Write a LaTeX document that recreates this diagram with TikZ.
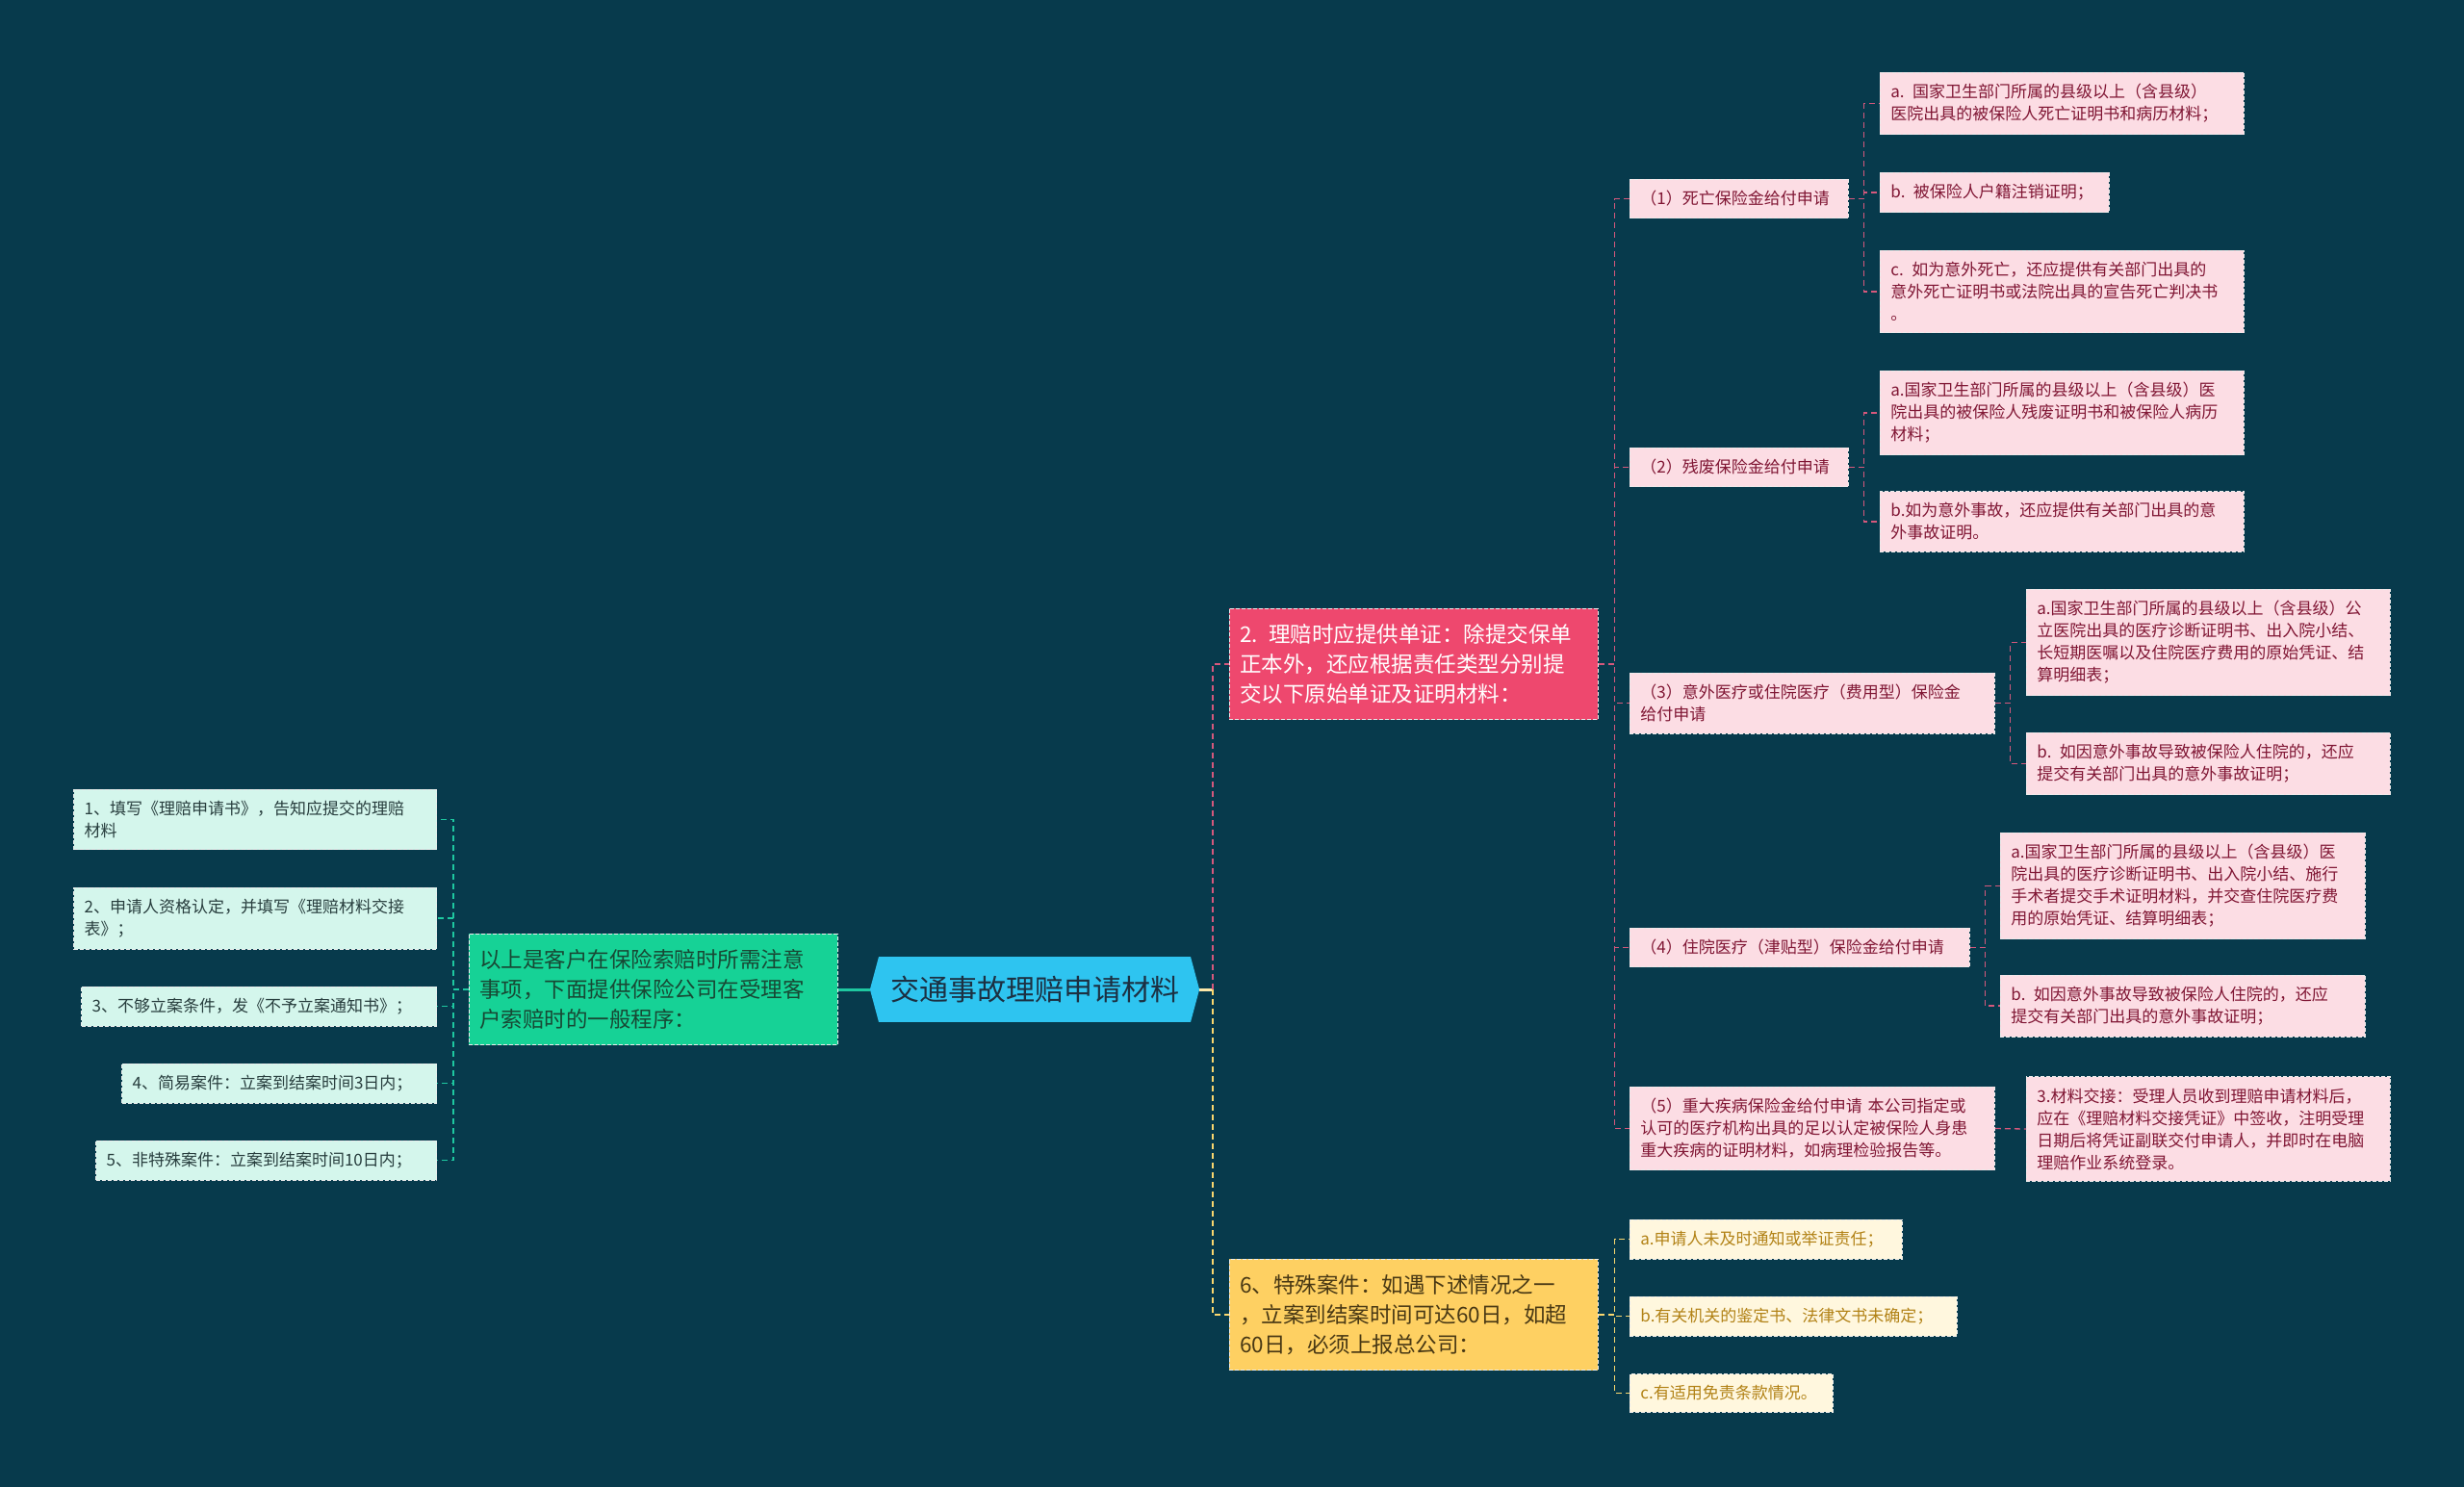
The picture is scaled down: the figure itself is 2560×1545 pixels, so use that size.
\documentclass[tikz,border=0pt]{standalone}
\usepackage{fontspec}
\setmainfont{Noto Sans CJK SC}
\usetikzlibrary{shapes.symbols}

\definecolor{bgcol}{RGB}{7,58,76}
\definecolor{rootcol}{RGB}{46,196,240}
\definecolor{roottxt}{RGB}{28,48,66}
\definecolor{greencol}{RGB}{22,210,150}
\definecolor{greentxt}{RGB}{24,72,52}
\definecolor{mintlt}{RGB}{212,246,236}
\definecolor{minttxt}{RGB}{40,62,62}
\definecolor{pinkcol}{RGB}{238,72,110}
\definecolor{pinklt}{RGB}{252,221,228}
\definecolor{pinktxt}{RGB}{128,22,52}
\definecolor{yellowcol}{RGB}{254,208,98}
\definecolor{yellowtxt}{RGB}{72,56,20}
\definecolor{creamlt}{RGB}{255,247,222}
\definecolor{creamtxt}{RGB}{178,130,22}
\definecolor{pinkln}{RGB}{214,88,124}
\definecolor{greenln}{RGB}{30,200,160}
\definecolor{yellowln}{RGB}{250,215,110}

\begin{document}
\begin{tikzpicture}[x=1pt,y=-1pt,
  box/.style={draw=white!85!gray,dash pattern=on 4pt off 2pt,line width=0.8pt,
    align=left,anchor=west,inner xsep=11pt,inner ysep=12pt,
    font=\fontsize{17}{23}\selectfont},
  pinkbox/.style={box,fill=pinklt,text=pinktxt},
  mintbox/.style={box,fill=mintlt,text=minttxt,anchor=east},
  creambox/.style={box,fill=creamlt,text=creamtxt},
  bigbox/.style={box,inner ysep=16pt,text width=361pt,font=\fontsize{22.5}{31}\selectfont},
  rootnode/.style={signal,signal to=east and west,signal pointer angle=150,
    fill=rootcol,text=roottxt,inner xsep=12pt,inner ysep=20pt,
    font=\fontsize{30}{36}\selectfont},
  link/.style={dash pattern=on 6pt off 4pt,line width=1.3pt},
  pinklink/.style={link,draw=pinkln},
  greenlink/.style={link,draw=greenln},
  yellowlink/.style={link,draw=yellowln}]

  \fill[bgcol] (0,0) rectangle (2560,1545);
  \useasboundingbox (0,0) rectangle (2560,1545);

  % centre
  \node[rootnode] (root) at (1075,1028) {交通事故理赔申请材料};

  % left branch
  \node[bigbox,fill=greencol,text=greentxt] (steps) at (487,1028)
    {以上是客户在保险索赔时所需注意\\事项，下面提供保险公司在受理客\\户索赔时的一般程序：};
  \node[mintbox,text width=355pt] (s1) at (454,851.5) {1、填写《理赔申请书》，告知应提交的理赔\\材料};
  \node[mintbox,text width=355pt] (s2) at (454,954) {2、申请人资格认定，并填写《理赔材料交接\\表》；};
  \node[mintbox,text width=347pt] (s3) at (454,1045.5) {3、不够立案条件，发《不予立案通知书》；};
  \node[mintbox,text width=305pt] (s4) at (454,1125.5) {4、简易案件：立案到结案时间3日内；};
  \node[mintbox,text width=332pt] (s5) at (454,1205.5) {5、非特殊案件：立案到结案时间10日内；};

  % right branch
  \node[bigbox,fill=pinkcol,text=white] (docs) at (1277,690)
    {2. 理赔时应提供单证：除提交保单\\正本外，还应根据责任类型分别提\\交以下原始单证及证明材料：};
  \node[bigbox,fill=yellowcol,text=yellowtxt] (special) at (1277,1366)
    {6、特殊案件：如遇下述情况之一\\，立案到结案时间可达60日，如超\\60日，必须上报总公司：};

  \node[pinkbox,text width=205pt] (d1) at (1693,206.5) {（1）死亡保险金给付申请};
  \node[pinkbox,text width=205pt] (d2) at (1693,485.5) {（2）残废保险金给付申请};
  \node[pinkbox,text width=357pt] (d3) at (1693,730.5) {（3）意外医疗或住院医疗（费用型）保险金\\给付申请};
  \node[pinkbox,text width=331pt] (d4) at (1693,984.5) {（4）住院医疗（津贴型）保险金给付申请};
  \node[pinkbox,text width=357pt] (d5) at (1693,1172.5)
    {（5）重大疾病保险金给付申请 本公司指定或\\认可的医疗机构出具的足以认定被保险人身患\\重大疾病的证明材料，如病理检验报告等。};

  \node[pinkbox,text width=356pt] (d1a) at (1953,107.5) {a. 国家卫生部门所属的县级以上（含县级）\\医院出具的被保险人死亡证明书和病历材料；};
  \node[pinkbox,text width=216pt] (d1b) at (1953,200) {b. 被保险人户籍注销证明；};
  \node[pinkbox,text width=356pt] (d1c) at (1953,303) {c. 如为意外死亡，还应提供有关部门出具的\\意外死亡证明书或法院出具的宣告死亡判决书\\。};
  \node[pinkbox,text width=356pt] (d2a) at (1953,429) {a.国家卫生部门所属的县级以上（含县级）医\\院出具的被保险人残废证明书和被保险人病历\\材料；};
  \node[pinkbox,text width=356pt] (d2b) at (1953,542) {b.如为意外事故，还应提供有关部门出具的意\\外事故证明。};
  \node[pinkbox,text width=356pt] (d3a) at (2105,667.5) {a.国家卫生部门所属的县级以上（含县级）公\\立医院出具的医疗诊断证明书、出入院小结、\\长短期医嘱以及住院医疗费用的原始凭证、结\\算明细表；};
  \node[pinkbox,text width=356pt] (d3b) at (2105,793.5) {b. 如因意外事故导致被保险人住院的，还应\\提交有关部门出具的意外事故证明；};
  \node[pinkbox,text width=357pt] (d4a) at (2078,920.5) {a.国家卫生部门所属的县级以上（含县级）医\\院出具的医疗诊断证明书、出入院小结、施行\\手术者提交手术证明材料，并交查住院医疗费\\用的原始凭证、结算明细表；};
  \node[pinkbox,text width=357pt] (d4b) at (2078,1045) {b. 如因意外事故导致被保险人住院的，还应\\提交有关部门出具的意外事故证明；};
  \node[pinkbox,text width=356pt] (d5a) at (2105,1173) {3.材料交接：受理人员收到理赔申请材料后，\\应在《理赔材料交接凭证》中签收，注明受理\\日期后将凭证副联交付申请人，并即时在电脑\\理赔作业系统登录。};

  \node[creambox,text width=261pt] (sa) at (1693,1287.5) {a.申请人未及时通知或举证责任；};
  \node[creambox,text width=318pt] (sb) at (1693,1367.5) {b.有关机关的鉴定书、法律文书未确定；};
  \node[creambox,text width=189pt] (sc) at (1693,1447.5) {c.有适用免责条款情况。};

  % connectors
  \draw[greenln,line width=3pt] (root.west) -- (steps.east);
  \coordinate (rj) at (1260,1028);
  \draw[yellowln!60!white,line width=3pt] (root.east) -- (rj);
  \draw[pinklink] (rj) |- (docs.west);
  \draw[yellowlink] (rj) |- (special.west);

  \foreach \c in {s1,s2,s3,s4,s5}
    \draw[greenlink] (steps.west) -- ++(-16,0) |- (\c.east);
  \foreach \c in {d1,d2,d3,d4,d5}
    \draw[pinklink] (docs.east) -- ++(17,0) |- (\c.west);
  \foreach \c in {d1a,d1b,d1c}
    \draw[pinklink] (d1.east) -- ++(16,0) |- (\c.west);
  \foreach \c in {d2a,d2b}
    \draw[pinklink] (d2.east) -- ++(16,0) |- (\c.west);
  \foreach \c in {d3a,d3b}
    \draw[pinklink] (d3.east) -- ++(16,0) |- (\c.west);
  \foreach \c in {d4a,d4b}
    \draw[pinklink] (d4.east) -- ++(16,0) |- (\c.west);
  \draw[pinklink] (d5.east) -- (d5a.west);
  \foreach \c in {sa,sb,sc}
    \draw[yellowlink] (special.east) -- ++(17,0) |- (\c.west);
\end{tikzpicture}
\end{document}
